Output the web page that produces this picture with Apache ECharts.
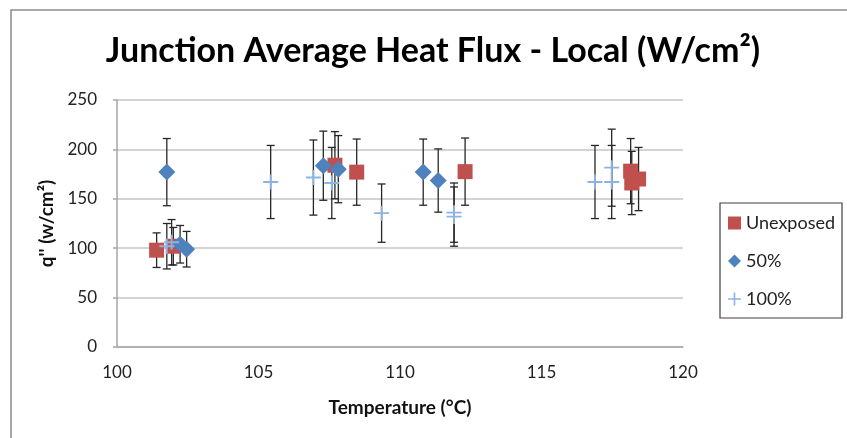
<!DOCTYPE html>
<html><head><meta charset="utf-8">
<script src="https://cdn.jsdelivr.net/npm/echarts@6/dist/echarts.min.js"></script>
<style>html,body{margin:0;padding:0;background:#fff}#c{width:847px;height:438px}</style>
</head><body><div id="c"></div>
<script>
const xTicks = [100, 105, 110, 115, 120];
const yTicks = [0, 50, 100, 150, 200, 250];
const seriesNames = ['Unexposed', '50%', '100%'];
const unexposedX = [101.40, 101.99, 107.70, 108.47, 112.30, 118.15, 118.19, 118.43];
const unexposedY = [98, 102, 184, 177, 177.5, 178, 166, 170];
const unexposedErr = [17.5, 19, 34, 33.5, 34, 33, 32, 32];
const halfX = [101.76, 102.23, 102.46, 107.29, 107.82, 110.82, 111.35];
const halfY = [177, 104, 99, 183.5, 180, 177, 168.5];
const halfErr = [34, 19, 18, 35, 34, 33.5, 32];
const fullX = [101.76, 101.93, 105.43, 106.94, 107.59, 109.35, 111.91, 111.91, 116.89, 117.48, 117.48];
const fullY = [102, 106, 167, 171.5, 166, 135.5, 136, 132, 167, 167, 181.5];
const fullErr = [23, 23, 37, 38, 36, 29.5, 30, 30, 37, 37, 39];

const FONT = 'Lato, "Open Sans", sans-serif';
const PLUS = 'path://M0,7L16,7L16,9L0,9Z M7,0L9,0L9,16L7,16Z';
const colors = ['#C0504D', '#4F81BD', '#8DB3E2'];

function zip(xs, ys, es) { return xs.map((x, i) => es ? [x, ys[i], es[i]] : [x, ys[i]]); }

function renderErr(params, api) {
  const x = api.value(0), y = api.value(1), e = api.value(2);
  const top = api.coord([x, y + e]);
  const bot = api.coord([x, y - e]);
  const w = 4;
  const st = { stroke: '#262626', lineWidth: 1.3 };
  return { type: 'group', children: [
    { type: 'line', shape: { x1: top[0], y1: top[1], x2: bot[0], y2: bot[1] }, style: st },
    { type: 'line', shape: { x1: top[0] - w, y1: top[1], x2: top[0] + w, y2: top[1] }, style: st },
    { type: 'line', shape: { x1: bot[0] - w, y1: bot[1], x2: bot[0] + w, y2: bot[1] }, style: st }
  ]};
}

function errSeries(xs, ys, es, z) {
  return { type: 'custom', name: 'err' + z, renderItem: renderErr, data: zip(xs, ys, es),
    encode: { x: 0, y: 1 }, z: z, silent: true, clip: false };
}

const chart = echarts.init(document.getElementById('c'));
chart.setOption({
  animation: false,
  backgroundColor: '#fff',
  textStyle: { fontFamily: FONT },
  grid: { left: 117, right: 164, top: 100, bottom: 91 },
  graphic: [
    { type: 'polyline', shape: { points: [[11, 438], [11, 10], [847, 10]] },
      style: { stroke: '#8c8c8c', lineWidth: 1.5, fill: null } },
    { type: 'text', x: 433, y: 51,
      style: { text: 'Junction Average Heat Flux - Local (W/cm²)', fontSize: 34, fontWeight: 'bold',
        fontFamily: FONT, fill: '#000', align: 'center', verticalAlign: 'middle' } },
    { type: 'rect', shape: { x: 720, y: 203, width: 122, height: 115 },
      style: { stroke: '#404040', lineWidth: 1.2, fill: '#fff' }, z: 0 }
  ],
  legend: {
    orient: 'vertical', left: 723, top: 209, itemGap: 20, itemWidth: 13, itemHeight: 13,
    textStyle: { fontSize: 18, fontFamily: FONT, color: '#222' },
    data: [
      { name: seriesNames[0], icon: 'rect' },
      { name: seriesNames[1], icon: 'diamond' },
      { name: seriesNames[2], icon: PLUS }
    ],
    z: 5
  },
  xAxis: {
    type: 'value', min: xTicks[0], max: xTicks[xTicks.length - 1], interval: 5,
    name: 'Temperature (°C)', nameLocation: 'middle', nameGap: 51,
    nameTextStyle: { fontSize: 19, fontWeight: 'bold', color: '#111', fontFamily: FONT },
    axisLine: { show: true, lineStyle: { color: '#a6a6a6', width: 1.5 } },
    axisTick: { show: false }, splitLine: { show: false },
    axisLabel: { fontSize: 17, color: '#222', margin: 17, fontFamily: FONT }
  },
  yAxis: {
    type: 'value', min: yTicks[0], max: yTicks[yTicks.length - 1], interval: 50,
    name: "q'' (w/cm²)", nameLocation: 'middle', nameGap: 57, nameRotate: 90,
    nameTextStyle: { fontSize: 19, fontWeight: 'bold', color: '#111', fontFamily: FONT },
    axisLine: { show: true, lineStyle: { color: '#a6a6a6', width: 1.5 } },
    axisTick: { show: true, length: 4, lineStyle: { color: '#a6a6a6', width: 1.5 } },
    splitLine: { show: true, lineStyle: { color: '#c4c4c4', width: 1.5 } },
    axisLabel: { fontSize: 17, color: '#222', margin: 20, fontFamily: FONT }
  },
  series: [
    errSeries(unexposedX, unexposedY, unexposedErr, 1),
    errSeries(halfX, halfY, halfErr, 1),
    errSeries(fullX, fullY, fullErr, 1),
    { type: 'scatter', name: seriesNames[0], data: zip(unexposedX, unexposedY), symbol: 'rect',
      symbolSize: 15, itemStyle: { color: colors[0], opacity: 1 }, z: 2 },
    { type: 'scatter', name: seriesNames[1], data: zip(halfX, halfY), symbol: 'diamond',
      symbolSize: 17, itemStyle: { color: colors[1], opacity: 1 }, z: 3 },
    { type: 'scatter', name: seriesNames[2], data: zip(fullX, fullY), symbol: PLUS,
      symbolSize: 15, itemStyle: { color: colors[2], opacity: 1 }, z: 4 }
  ]
});
</script></body></html>
